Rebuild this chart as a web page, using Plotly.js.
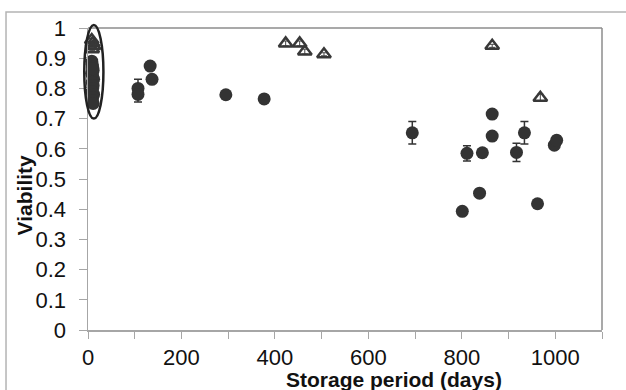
<!DOCTYPE html>
<html>
<head>
<meta charset="utf-8">
<script src="https://cdn.plot.ly/plotly-3.0.1.min.js"></script>
<style>
html,body{margin:0;padding:0;background:#fff;}
#chart{width:626px;height:390px;}
</style>
</head>
<body>
<div id="chart"></div>
<script>
// Filled circles: storage period (days) vs viability
const circleDays = [8, 9, 10, 11, 8, 10, 12, 9, 11, 10, 8, 12, 10, 9, 11, 10,
  107, 107, 133, 137, 295, 377, 694, 811, 838, 844, 865, 865, 917, 934, 998, 1003, 801, 962];
const circleViability = [0.89, 0.88, 0.87, 0.86, 0.85, 0.84, 0.83, 0.82, 0.81, 0.80, 0.79, 0.78, 0.77, 0.76, 0.75, 0.865,
  0.80, 0.78, 0.874, 0.83, 0.779, 0.765, 0.653, 0.585, 0.453, 0.587, 0.715, 0.642, 0.588, 0.653, 0.612, 0.628, 0.393, 0.418];
const circleError = [0, 0, 0, 0, 0, 0, 0, 0, 0, 0, 0, 0, 0, 0, 0, 0,
  0.03, 0.025, 0, 0, 0, 0, 0.037, 0.025, 0, 0, 0, 0, 0.03, 0.037, 0, 0.015, 0, 0.01];

// Open triangles
const triangleDays = [8, 10, 12, 9, 423, 453, 464, 505, 865, 968];
const triangleViability = [0.96, 0.95, 0.94, 0.93, 0.949, 0.949, 0.922, 0.913, 0.941, 0.769];
const triangleError = [0.005, 0.005, 0.005, 0.005, 0.008, 0.008, 0.008, 0.005, 0.005, 0.012];

// Axis settings
const xRange = [0, 1100];
const yRange = [0, 1];
const xTickVals = [0, 200, 400, 600, 800, 1000];
const yTickVals = [0, 0.1, 0.2, 0.3, 0.4, 0.5, 0.6, 0.7, 0.8, 0.9, 1];
const yTickText = ['0', '0.1', '0.2', '0.3', '0.4', '0.5', '0.6', '0.7', '0.8', '0.9', '1'];

// Highlight ellipse around the day-0 cluster (in data units)
const ellipseDays = [-8, 33];
const ellipseViability = [0.70, 1.01];

const xTitle = 'Storage period (days)';
const yTitle = 'Viability';

const dark = '#333333';
const toPaperX = v => (v - xRange[0]) / (xRange[1] - xRange[0]);
const toPaperY = v => (v - yRange[0]) / (yRange[1] - yRange[0]);

const traces = [
  {
    type: 'scatter', mode: 'markers', x: circleDays, y: circleViability,
    marker: {symbol: 'circle', size: 13, color: dark},
    error_y: {type: 'data', array: circleError, visible: true, color: dark, thickness: 1.5, width: 4},
    cliponaxis: false, showlegend: false, hoverinfo: 'x+y'
  },
  {
    type: 'scatter', mode: 'markers', x: triangleDays, y: triangleViability,
    marker: {symbol: 'triangle-up-open', size: 12, color: '#383838', line: {width: 2.5, color: '#383838'}},
    error_y: {type: 'data', array: triangleError, visible: true, color: '#444444', thickness: 1, width: 3},
    cliponaxis: false, showlegend: false, hoverinfo: 'x+y'
  }
];

const axisFont = {family: 'Liberation Sans, Arial, sans-serif', size: 22, color: '#111111'};

const layout = {
  width: 626, height: 390,
  margin: {l: 88, r: 24, t: 28, b: 60, pad: 0},
  paper_bgcolor: '#ffffff', plot_bgcolor: '#ffffff',
  showlegend: false,
  xaxis: {
    range: xRange, tickmode: 'array', tickvals: xTickVals,
    ticks: 'outside', ticklen: 7, tickwidth: 1, tickcolor: '#a6a6a6',
    minor: {tickmode: 'linear', tick0: 100, dtick: 200, ticks: 'outside', ticklen: 7, tickwidth: 1, tickcolor: '#a6a6a6', showgrid: false},
    showline: true, linecolor: '#a6a6a6', linewidth: 1.5,
    showgrid: false, zeroline: false, tickfont: axisFont, ticklabelstandoff: 0
  },
  yaxis: {
    range: yRange, tickmode: 'array', tickvals: yTickVals, ticktext: yTickText,
    ticks: 'outside', ticklen: 8, tickwidth: 1, tickcolor: '#a6a6a6',
    showline: true, linecolor: '#a6a6a6', linewidth: 1.5,
    showgrid: false, zeroline: false, tickfont: axisFont, ticklabelstandoff: 8
  },
  annotations: [
    {text: '<b>' + xTitle + '</b>', xref: 'paper', yref: 'paper', x: 0.595, y: -0.163,
     xanchor: 'center', yanchor: 'middle', showarrow: false,
     font: {family: 'Liberation Sans, Arial, sans-serif', size: 21, color: '#111111'}},
    {text: '<b>' + yTitle + '</b>', xref: 'paper', yref: 'paper', x: -0.123, y: 0.445,
     xanchor: 'center', yanchor: 'middle', showarrow: false, textangle: -90,
     font: {family: 'Liberation Sans, Arial, sans-serif', size: 21, color: '#111111'}}
  ],
  shapes: [
    // top and right plot-area border
    {type: 'line', xref: 'paper', yref: 'paper', x0: 0, x1: 1, y0: 1, y1: 1, line: {color: '#8c8c8c', width: 1.5}},
    {type: 'line', xref: 'paper', yref: 'paper', x0: 1, x1: 1, y0: 0, y1: 1, line: {color: '#8c8c8c', width: 1.5}},
    // outer chart frame
    {type: 'rect', xref: 'paper', yref: 'paper', x0: -0.1595, x1: 1.06, y0: -0.22, y1: 1.053,
     line: {color: '#b4b4b4', width: 1.5}, fillcolor: 'rgba(0,0,0,0)'},
    // highlight ellipse
    {type: 'circle', xref: 'paper', yref: 'paper',
     x0: toPaperX(ellipseDays[0]), x1: toPaperX(ellipseDays[1]),
     y0: toPaperY(ellipseViability[0]), y1: toPaperY(ellipseViability[1]),
     line: {color: '#222222', width: 2.5}, fillcolor: 'rgba(0,0,0,0)'}
  ]
};

Plotly.newPlot('chart', traces, layout, {displayModeBar: false, staticPlot: true});
</script>
</body>
</html>
